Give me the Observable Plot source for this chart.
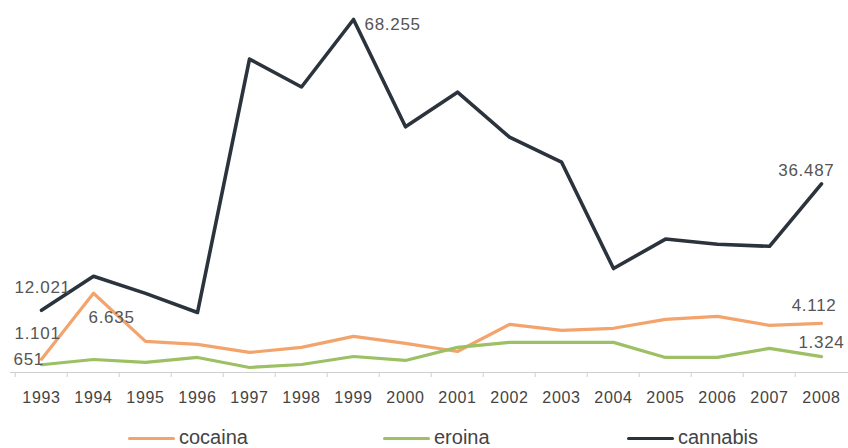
<!DOCTYPE html>
<html><head><meta charset="utf-8">
<script src="https://cdn.jsdelivr.net/npm/d3@7"></script>
<script src="https://cdn.jsdelivr.net/npm/@observablehq/plot@0.6"></script>
<style>
body{margin:0;background:#fff;font-family:"Liberation Sans",Arial,sans-serif;}
#wrap{position:relative;width:848px;height:448px;overflow:hidden;background:#fff;}
#chart{position:absolute;left:0;top:0;}
.leg{position:absolute;top:427px;height:20px;line-height:20px;font-size:20px;color:#444;white-space:nowrap;}
.leg i{display:inline-block;width:47px;height:3.5px;vertical-align:middle;margin-right:4px;border-radius:2px;}
</style></head><body><div id="wrap"><div id="chart"></div><div id="legend"></div></div>
<script>
// ---- data ----
const years = [1993,1994,1995,1996,1997,1998,1999,2000,2001,2002,2003,2004,2005,2006,2007,2008];
const cannabis = [12021,18600,15300,11600,60600,55200,68255,47500,54200,45500,40700,20100,25800,24800,24400,36487];
const cocaina  = [1101,6635,2600,2350,1680,2100,3020,2440,1760,4030,3530,3700,4450,4700,3950,4112];
const eroina   = [651,1090,840,1260,420,670,1340,1010,2100,2520,2520,2520,1260,1260,2020,1324];
const seriesNames = ["cocaina","eroina","cannabis"];
// cocaina / eroina are drawn against a secondary (unshown) axis in the original
const secondaryRatio = 2.31;

// ---- styles ----
const colors = {cocaina:"#f2a46c", eroina:"#9cc063", cannabis:"#2b333d"};
const widths = {cocaina:3.2, eroina:3.2, cannabis:3.6};

const seriesValues = {cocaina, eroina, cannabis};
const seriesScale = {cocaina: secondaryRatio, eroina: secondaryRatio, cannabis: 1};
const rows = [];
for (const s of seriesNames) years.forEach((y, j) => rows.push({series: s, year: y, value: seriesValues[s][j], plotted: seriesValues[s][j] * seriesScale[s]}));

const itFormat = d3.formatLocale({decimal: ",", thousands: ".", grouping: [3], currency: ["", "€"]}).format(",d");

const W = 848, H = 418, mL = 10, mR = -4;
const step = (W - mL - mR) / years.length;

function label(series, year, dx, dy, anchor) {
  return Plot.text(rows.filter(r => r.series === series && r.year === year), {
    x: "year", y: "plotted", text: d => itFormat(d.value),
    dx, dy, textAnchor: anchor, fill: "#555", fontSize: 17
  });
}

const plot = Plot.plot({
  width: W, height: H,
  marginLeft: mL, marginRight: mR, marginTop: 19, marginBottom: H - 372,
  style: {fontFamily: "Liberation Sans, Arial, sans-serif", background: "transparent", letterSpacing: "0.7px", overflow: "visible"},
  x: {type: "point", domain: years, padding: 0.5, axis: null},
  y: {domain: [0, 68255], axis: null},
  marks: [
    Plot.ruleY([0], {stroke: "#cfcfcf", strokeWidth: 1}),
    Plot.axisX({tickSize: 5, tickFormat: () => "", label: null, dx: -step / 2, stroke: "#cfcfcf"}),
    Plot.axisX({tickSize: 0, tickPadding: 19, label: null, tickFormat: d => String(d), fontSize: 16, fill: "#444"}),
    ...seriesNames.map(s => Plot.line(rows.filter(r => r.series === s), {
      x: "year", y: "plotted", stroke: colors[s], strokeWidth: widths[s]
    })),
    label("cannabis", 1993, -27, -23, "start"),
    label("cocaina", 1993, -27, -26, "start"),
    label("eroina", 1993, -28, -5, "start"),
    label("cocaina", 1994, -5, 24, "start"),
    label("cannabis", 1999, 11, 5, "start"),
    label("cannabis", 2008, 13, -13, "end"),
    label("cocaina", 2008, 15, -18, "end"),
    label("eroina", 2008, 23, -14, "end")
  ]
});
document.getElementById("chart").appendChild(plot);

// legend (HTML, below the SVG area)
const legendLeft = {cocaina: 128, eroina: 383, cannabis: 627};
const legend = document.getElementById("legend");
for (const s of seriesNames) {
  const el = document.createElement("div");
  el.className = "leg";
  el.style.left = legendLeft[s] + "px";
  el.innerHTML = `<i style="background:${colors[s]}"></i>${s}`;
  legend.appendChild(el);
}
</script>
</body></html>
